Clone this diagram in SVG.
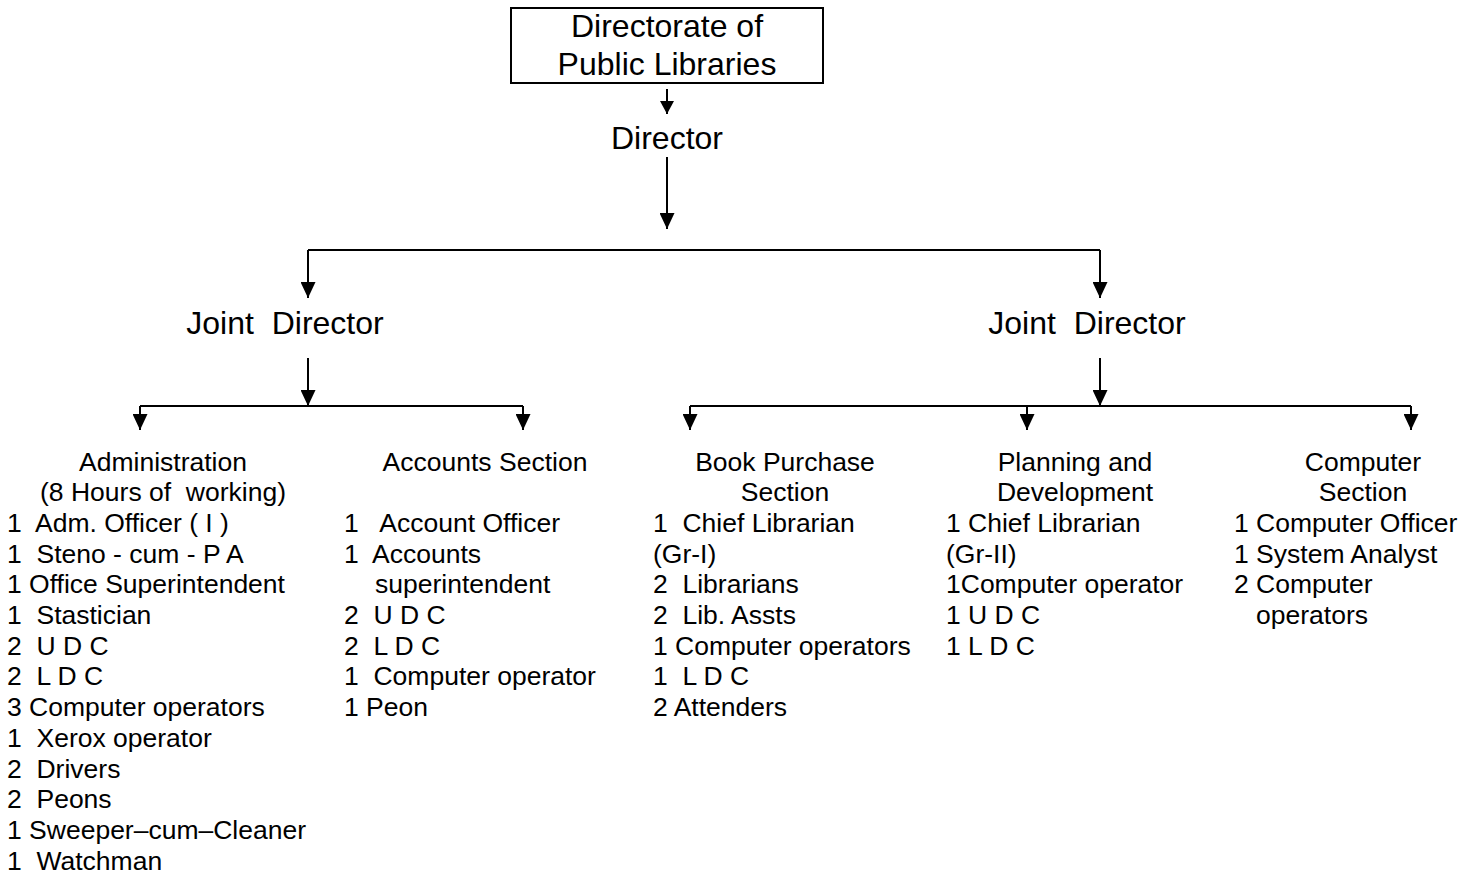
<svg xmlns="http://www.w3.org/2000/svg" width="1468" height="874" viewBox="0 0 1468 874">
<defs>
<marker id="arr" markerUnits="userSpaceOnUse" markerWidth="16" markerHeight="15" refX="16" refY="7.5" orient="auto">
<path d="M0,0 L16,7.5 L0,15 Z" fill="#000"/>
</marker>
<marker id="arrs" markerUnits="userSpaceOnUse" markerWidth="13" markerHeight="14" refX="13" refY="7" orient="auto">
<path d="M0,0 L13,7 L0,14 Z" fill="#000"/>
</marker>
<style>
text{font-family:"Liberation Sans",Arial,sans-serif;fill:#000;white-space:pre}
.big{font-size:32px}
.body{font-size:26.5px}
.c{text-anchor:middle}
.ln{stroke:#000;stroke-width:2;fill:none}
.ar{stroke:#000;stroke-width:2;fill:none;marker-end:url(#arr)}
.as{stroke:#000;stroke-width:2;fill:none;marker-end:url(#arrs)}
</style>
</defs>
<rect width="1468" height="874" fill="#fff"/>
<g id="connectors">
<path class="as" d="M667,89 V114"/>
<path class="ar" d="M667,157 V229"/>
<path class="ln" d="M308,250 H1100"/>
<path class="ar" d="M308,250 V298"/>
<path class="ar" d="M1100,250 V298"/>
<path class="ar" d="M308,358 V406"/>
<path class="ar" d="M1100,358 V406"/>
<path class="ln" d="M140,406 H523"/>
<path class="ar" d="M140,406 V430"/>
<path class="ar" d="M523,406 V430"/>
<path class="ln" d="M690,406 H1411"/>
<path class="ar" d="M690,406 V430"/>
<path class="ar" d="M1027,406 V430"/>
<path class="ar" d="M1411,406 V430"/>
</g>
<g id="directorate">
<rect x="511" y="8" width="312" height="75" fill="none" stroke="#000" stroke-width="2"/>
<text class="big c" x="667" y="37">Directorate of</text>
<text class="big c" x="667" y="75">Public Libraries</text>
</g>
<g id="director">
<text class="big c" x="667" y="149">Director</text>
</g>
<g id="joint-director-1">
<text class="big c" x="285" y="334">Joint  Director</text>
</g>
<g id="joint-director-2">
<text class="big c" x="1087" y="334">Joint  Director</text>
</g>
<g id="administration">
<text class="body c" x="163" y="470.5">Administration</text>
<text class="body c" x="163" y="501.2">(8 Hours of  working)</text>
<text class="body" x="7" y="531.9">1  Adm. Officer ( I )</text>
<text class="body" x="7" y="562.6">1  Steno - cum - P A</text>
<text class="body" x="7" y="593.3">1 Office Superintendent</text>
<text class="body" x="7" y="624">1  Stastician</text>
<text class="body" x="7" y="654.7">2  U D C</text>
<text class="body" x="7" y="685.4">2  L D C</text>
<text class="body" x="7" y="716.1">3 Computer operators</text>
<text class="body" x="7" y="746.8">1  Xerox operator</text>
<text class="body" x="7" y="777.5">2  Drivers</text>
<text class="body" x="7" y="808.2">2  Peons</text>
<text class="body" x="7" y="838.9">1 Sweeper–cum–Cleaner</text>
<text class="body" x="7" y="869.6">1  Watchman</text>
</g>
<g id="accounts">
<text class="body c" x="485" y="470.5">Accounts Section</text>
<text class="body" x="344" y="531.9">1   Account Officer</text>
<text class="body" x="344" y="562.6">1  Accounts</text>
<text class="body" x="375" y="593.3">superintendent</text>
<text class="body" x="344" y="624">2  U D C</text>
<text class="body" x="344" y="654.7">2  L D C</text>
<text class="body" x="344" y="685.4">1  Computer operator</text>
<text class="body" x="344" y="716.1">1 Peon</text>
</g>
<g id="book-purchase">
<text class="body c" x="785" y="470.5">Book Purchase</text>
<text class="body c" x="785" y="501.2">Section</text>
<text class="body" x="653" y="531.9">1  Chief Librarian</text>
<text class="body" x="653" y="562.6">(Gr-I)</text>
<text class="body" x="653" y="593.3">2  Librarians</text>
<text class="body" x="653" y="624">2  Lib. Assts</text>
<text class="body" x="653" y="654.7">1 Computer operators</text>
<text class="body" x="653" y="685.4">1  L D C</text>
<text class="body" x="653" y="716.1">2 Attenders</text>
</g>
<g id="planning">
<text class="body c" x="1075" y="470.5">Planning and</text>
<text class="body c" x="1075" y="501.2">Development</text>
<text class="body" x="946" y="531.9">1 Chief Librarian</text>
<text class="body" x="946" y="562.6">(Gr-II)</text>
<text class="body" x="946" y="593.3">1Computer operator</text>
<text class="body" x="946" y="624">1 U D C</text>
<text class="body" x="946" y="654.7">1 L D C</text>
</g>
<g id="computer-section">
<text class="body c" x="1363" y="470.5">Computer</text>
<text class="body c" x="1363" y="501.2">Section</text>
<text class="body" x="1234" y="531.9">1 Computer Officer</text>
<text class="body" x="1234" y="562.6">1 System Analyst</text>
<text class="body" x="1234" y="593.3">2 Computer</text>
<text class="body" x="1256" y="624">operators</text>
</g>
</svg>
